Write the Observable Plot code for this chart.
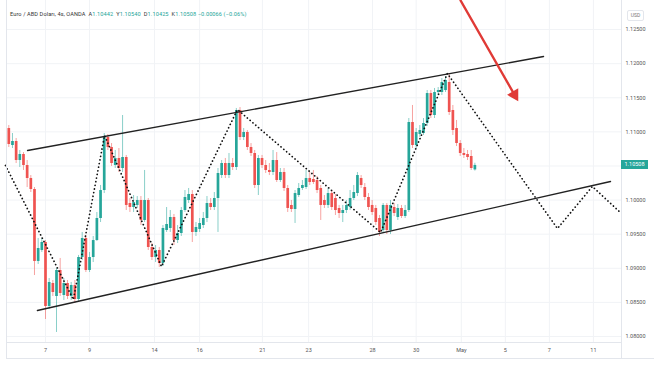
<!DOCTYPE html>
<html><head><meta charset="utf-8">
<script src="https://cdn.jsdelivr.net/npm/d3@7"></script>
<script src="https://cdn.jsdelivr.net/npm/@observablehq/plot@0.6"></script>
<style>
body{margin:0;background:#fff;font-family:Roboto,"Noto Sans",sans-serif;}
#wrap{position:relative;width:654px;height:366px;overflow:hidden;background:#fff;}
#wrap svg{position:absolute;left:0;top:0;}
.hdr{position:absolute;left:10px;top:11px;font-size:5.6px;color:#333;white-space:nowrap;letter-spacing:0.1px;}
.hdr .v{color:#26a69a;}
.ln{position:absolute;background:#e3e6ec;}
.usd{position:absolute;left:627px;top:10px;width:15px;height:9px;border:1px solid #e3e6ec;border-radius:2px;font-size:5px;color:#777;text-align:center;line-height:9px;}
.tag{position:absolute;left:621px;width:27px;height:9px;background:#26a69a;color:#fff;font-size:5.5px;line-height:9px;text-align:center;}
</style></head><body><div id="wrap"></div>
<script>
// Candles (4h), indices 0..127
const openP=[1.11049,1.10800,1.10859,1.10580,1.10668,1.10507,1.10316,1.10155,1.09100,1.09261,
1.09378,1.08440,1.08777,1.08586,1.08968,1.08601,1.08777,1.08586,1.08748,1.08542,
1.09158,1.09437,1.08968,1.09158,1.09407,1.09730,1.10140,1.10917,1.10771,1.10507,
1.10610,1.10463,1.10624,1.09950,1.09891,1.09921,1.09994,1.09701,1.09994,1.09305,
1.09158,1.09261,1.09070,1.09554,1.09583,1.09745,1.09407,1.09510,1.09847,1.09994,
1.10082,1.09525,1.09569,1.09627,1.09730,1.09950,1.09891,1.10023,1.10360,1.10536,
1.10360,1.10536,1.10478,1.11313,1.10917,1.10991,1.10771,1.10683,1.10214,1.10610,
1.10507,1.10434,1.10404,1.10580,1.10287,1.10404,1.10170,1.09921,1.09862,1.10067,
1.10170,1.10184,1.10316,1.10302,1.10287,1.10170,1.09994,1.09921,1.10096,1.10023,
1.09877,1.09803,1.09847,1.09891,1.10023,1.10096,1.10316,1.10184,1.10038,1.09921,
1.09877,1.09730,1.09554,1.09921,1.09554,1.09891,1.09745,1.09877,1.09759,1.09847,
1.11137,1.10800,1.10961,1.10976,1.11123,1.11562,1.11240,1.11577,1.11577,1.11606,
1.11724,1.11313,1.11049,1.10829,1.10683,1.10668,1.10639,1.10442];
const highP=[1.11093,1.10976,1.10903,1.10727,1.10697,1.10580,1.10360,1.10184,1.09437,1.09437,
1.09407,1.08850,1.08821,1.08997,1.09144,1.08850,1.08821,1.08792,1.08821,1.09188,
1.09525,1.09481,1.09232,1.09466,1.09818,1.10214,1.10976,1.10961,1.10829,1.10727,
1.10756,1.11240,1.10654,1.10023,1.10067,1.10052,1.10052,1.10434,1.10023,1.09363,
1.09334,1.09305,1.09627,1.09891,1.09847,1.09789,1.09627,1.09891,1.10140,1.10170,
1.10140,1.09671,1.09730,1.09818,1.10052,1.10023,1.10111,1.10463,1.10580,1.10610,
1.10683,1.10610,1.11343,1.11357,1.11049,1.11020,1.10829,1.10727,1.10654,1.10654,
1.10580,1.10536,1.10727,1.10697,1.10463,1.10463,1.10214,1.09994,1.10140,1.10243,
1.10287,1.10434,1.10404,1.10434,1.10346,1.10214,1.10067,1.10170,1.10140,1.10082,
1.09921,1.09921,1.09994,1.10140,1.10214,1.10404,1.10360,1.10243,1.10096,1.09994,
1.09921,1.09774,1.09950,1.09950,1.09994,1.09950,1.09935,1.09921,1.09921,1.11196,
1.11387,1.11049,1.11093,1.11196,1.11606,1.11606,1.11636,1.11650,1.11782,1.11812,
1.11856,1.11387,1.11167,1.10873,1.10756,1.10727,1.10727,1.10540];
const lowP=[1.10771,1.10756,1.10536,1.10478,1.10434,1.10184,1.10111,1.08894,1.09056,1.09232,
1.08249,1.08396,1.08586,1.08059,1.08586,1.08528,1.08542,1.08528,1.08484,1.08513,
1.09114,1.08938,1.08938,1.09085,1.09393,1.09671,1.10096,1.10727,1.10492,1.10463,
1.10404,1.10404,1.09847,1.09818,1.09818,1.09877,1.09627,1.09671,1.09261,1.09114,
1.09085,1.09012,1.09026,1.09525,1.09525,1.09334,1.09363,1.09466,1.09818,1.09950,
1.09378,1.09466,1.09525,1.09583,1.09671,1.09847,1.09847,1.09525,1.10316,1.10316,
1.10316,1.10434,1.10434,1.10873,1.10873,1.10727,1.10639,1.10170,1.10067,1.10463,
1.10390,1.10360,1.10360,1.10258,1.10258,1.10126,1.09818,1.09818,1.09657,1.10038,
1.10140,1.10155,1.10214,1.10228,1.10096,1.09701,1.09877,1.09877,1.09847,1.09774,
1.09730,1.09671,1.09803,1.09847,1.09994,1.10052,1.10170,1.09994,1.09847,1.09774,
1.09627,1.09466,1.09510,1.09495,1.09495,1.09759,1.09701,1.09730,1.09730,1.09818,
1.10756,1.10756,1.10917,1.10947,1.11079,1.11196,1.11196,1.11533,1.11533,1.11577,
1.11240,1.10947,1.10785,1.10639,1.10610,1.10580,1.10434,1.10425];
const closeP=[1.10815,1.10859,1.10580,1.10668,1.10507,1.10316,1.10155,1.09100,1.09290,1.09378,
1.08440,1.08792,1.08645,1.08968,1.08630,1.08777,1.08586,1.08748,1.08542,1.09158,
1.09437,1.08968,1.09158,1.09407,1.09730,1.10140,1.10917,1.10771,1.10536,1.10610,
1.10463,1.10624,1.09921,1.09891,1.09964,1.09994,1.09701,1.09994,1.09305,1.09158,
1.09261,1.09070,1.09583,1.09642,1.09745,1.09407,1.09510,1.09847,1.10038,1.10082,
1.09525,1.09598,1.09657,1.09730,1.09950,1.09891,1.10023,1.10390,1.10536,1.10360,
1.10536,1.10478,1.11313,1.10917,1.10991,1.10771,1.10683,1.10214,1.10610,1.10507,
1.10434,1.10404,1.10580,1.10287,1.10404,1.10170,1.09877,1.09862,1.10096,1.10170,
1.10214,1.10316,1.10258,1.10258,1.10140,1.09921,1.09921,1.10096,1.09891,1.09847,
1.09803,1.09847,1.09921,1.10023,1.10111,1.10360,1.10214,1.10038,1.09891,1.09818,
1.09671,1.09525,1.09921,1.09554,1.09921,1.09803,1.09877,1.09759,1.09847,1.11137,
1.10800,1.10991,1.11020,1.11123,1.11562,1.11240,1.11577,1.11606,1.11724,1.11753,
1.11284,1.11020,1.10829,1.10683,1.10654,1.10624,1.10463,1.10508];

// Time axis (candle index positions) and labels
const xTickPos=[10,22,39.7,52,69.1,81.7,99.1,111,123.3,135.3,147.3,159.3];
const xTickLabels=["7","9","14","16","21","23","28","30","May","5","7","11"];
const yTicks=[1.080,1.085,1.090,1.095,1.100,1.105,1.110,1.115,1.120,1.125];

// Channel lines (index, price)
const upperK=[5.1,145.7], upperP=[1.10727,1.12105];
const lowerK=[7.8,163.95], lowerP=[1.08381,1.10272];
// Dotted zig-zag path
const zigK=[-0.9,17.6,26.1,41.6,62.3,101.3,119.5,149.5,159.0,166.95];
const zigP=[1.10507,1.08542,1.10947,1.09026,1.11328,1.09525,1.11856,1.09583,1.10199,1.09803];
// Red arrow
const arrowK=[123.1,137.8], arrowP=[1.12926,1.11543];

const titleText="Euro / ABD Doları, 4s, OANDA";
const changeText="−0.00066 (−0.06%)";

const teal="#26a69a", red="#ef5350";
const n=closeP.length;
const candles=d3.range(n).map(i=>({i,o:openP[i],h:highP[i],l:lowP[i],c:closeP[i]}));
const col=d=>d.c>=d.o?teal:red;
const pts=(K,P)=>K.map((k,j)=>({k,p:P[j]}));
const labelMap=new Map(xTickPos.map((p,j)=>[p,xTickLabels[j]]));

const chart=Plot.plot({
  width:654,height:366,
  marginLeft:6,marginRight:33,marginTop:0,marginBottom:24,
  style:{fontFamily:"Roboto, sans-serif",fontSize:"5.5px",color:"#555",background:"transparent",overflow:"visible"},
  x:{domain:[-0.627,166.95],axis:null},
  y:{domain:[1.07912,1.12926],axis:null},
  color:{type:"identity"},
  marks:[
    Plot.ruleX(xTickPos,{stroke:"#f1f3f6"}),
    Plot.ruleY(yTicks,{stroke:"#f1f3f6"}),
    Plot.axisX({ticks:xTickPos,tickFormat:d=>labelMap.get(d),tickSize:0,tickPadding:6,anchor:"bottom",fill:"#555"}),
    Plot.axisY({anchor:"right",ticks:yTicks,tickFormat:d=>d.toFixed(5),tickSize:0,tickPadding:4,fill:"#555"}),
    Plot.ruleX(candles,{x:"i",y1:"l",y2:"h",stroke:col,strokeWidth:0.9,strokeOpacity:0.6}),
    Plot.ruleX(candles,{x:"i",y1:"o",y2:"c",stroke:col,strokeWidth:2.7}),
    Plot.line(pts(upperK,upperP),{x:"k",y:"p",stroke:"#222",strokeWidth:1.4}),
    Plot.line(pts(lowerK,lowerP),{x:"k",y:"p",stroke:"#222",strokeWidth:1.4}),
    Plot.line(pts(zigK,zigP),{x:"k",y:"p",stroke:"#111",strokeWidth:1.7,strokeDasharray:"0.1,3.6",strokeLinecap:"round"}),
    Plot.line(pts(arrowK,arrowP),{x:"k",y:"p",stroke:"#e03a36",strokeWidth:2.4}),
    Plot.dot([{k:arrowK[1],p:arrowP[1]}],{x:"k",y:"p",symbol:"triangle",fill:"#e03a36",stroke:"none",r:4.8,rotate:150})
  ]
});
const wrap=document.getElementById("wrap");
wrap.appendChild(chart);

// chrome: borders, header, USD box, last price tag
function ln(l,t,w,h){const d=document.createElement("div");d.className="ln";Object.assign(d.style,{left:l+"px",top:t+"px",width:w+"px",height:h+"px"});wrap.appendChild(d);}
ln(6,0,1,358); ln(621,0,1,358); ln(6,342,615,1); ln(6,358,648,1);
const last=n-1;
const hdr=document.createElement("div");hdr.className="hdr";
hdr.innerHTML=`${titleText}&nbsp;&nbsp;A<span class="v">${openP[last].toFixed(5)}</span>&nbsp;&nbsp;Y<span class="v">${highP[last].toFixed(5)}</span>&nbsp;&nbsp;D<span class="v">${lowP[last].toFixed(5)}</span>&nbsp;&nbsp;K<span class="v">${closeP[last].toFixed(5)}</span>&nbsp;<span class="v">${changeText}</span>`;
wrap.appendChild(hdr);
const usd=document.createElement("div");usd.className="usd";usd.textContent="USD";wrap.appendChild(usd);
const tag=document.createElement("div");tag.className="tag";tag.textContent=closeP[last].toFixed(5);
tag.style.top=(chart.scale("y").apply(closeP[last])-4.5)+"px";wrap.appendChild(tag);
</script></body></html>
